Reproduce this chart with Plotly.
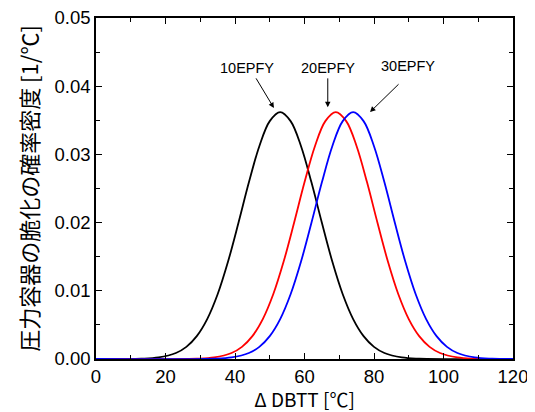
import plotly.graph_objects as go

# Data (ΔDBTT [℃], probability density [1/℃])
x_10 = [0, 13, 18, 23, 26, 29, 32, 35, 38, 41, 44, 47, 50, 53, 56, 59, 62, 65, 68, 71, 74, 77, 80, 83, 88, 93, 120]
y_10 = [0, 0.00005, 0.00023, 0.00088, 0.00178, 0.00335, 0.00585, 0.00949, 0.01429, 0.01997, 0.02590, 0.03120, 0.03488, 0.03620,
        0.03488, 0.03120, 0.02590, 0.01997, 0.01429, 0.00949, 0.00585, 0.00335, 0.00178, 0.00088, 0.00023, 0.00005, 0]

x_20 = [0, 29, 34, 39, 42, 45, 48, 51, 54, 57, 60, 63, 66, 69, 72, 75, 78, 81, 84, 87, 90, 93, 96, 99, 104, 109, 120]
y_20 = [0, 0.00005, 0.00023, 0.00088, 0.00178, 0.00335, 0.00585, 0.00949, 0.01429, 0.01997, 0.02590, 0.03120, 0.03488, 0.03620,
        0.03488, 0.03120, 0.02590, 0.01997, 0.01429, 0.00949, 0.00585, 0.00335, 0.00178, 0.00088, 0.00023, 0.00005, 0]

x_30 = [0, 34, 39, 44, 47, 50, 53, 56, 59, 62, 65, 68, 71, 74, 77, 80, 83, 86, 89, 92, 95, 98, 101, 104, 109, 114, 120]
y_30 = [0, 0.00005, 0.00023, 0.00088, 0.00178, 0.00335, 0.00585, 0.00949, 0.01429, 0.01997, 0.02590, 0.03120, 0.03488, 0.03620,
        0.03488, 0.03120, 0.02590, 0.01997, 0.01429, 0.00949, 0.00585, 0.00335, 0.00178, 0.00088, 0.00023, 0.00005, 0.00001]

labels = ["10EPFY", "20EPFY", "30EPFY"]
colors = ["black", "red", "blue"]
label_pos = [(43.4, 0.0427), (66.7, 0.0427), (89.8, 0.0429)]
arrow_tail = [(45.8, 0.04137), (66.7, 0.04137), (87.5, 0.0405)]
arrow_head = [(51.2, 0.0368), (66.7, 0.0369), (78.85, 0.0362)]

FONT = "Liberation Sans, Arial, sans-serif"
CJK = "Noto Sans CJK JP, Liberation Sans, sans-serif"

fig = go.Figure()
for xs, ys, c, name in zip([x_10, x_20, x_30], [y_10, y_20, y_30], colors, labels):
    fig.add_trace(go.Scatter(x=xs, y=ys, mode="lines", name=name,
                             line=dict(color=c, width=1.8, shape="spline", smoothing=1.0),
                             showlegend=False, hoverinfo="skip"))

for lab, (tx, ty), (ax, ay), (hx, hy) in zip(labels, label_pos, arrow_tail, arrow_head):
    fig.add_annotation(x=tx, y=ty, text=lab, showarrow=False,
                       font=dict(family=FONT, size=14.5, color="black"))
    fig.add_annotation(x=hx, y=hy, ax=ax, ay=ay, axref="x", ayref="y", text="",
                       showarrow=True, arrowhead=2, arrowsize=1.1, arrowwidth=1, arrowcolor="black")

axis_common = dict(showline=True, linecolor="black", linewidth=1.5, mirror="ticks",
                   ticks="inside", ticklen=6, tickwidth=1, tickcolor="black",
                   showgrid=False, zeroline=False, automargin=False,
                   ticklabeloverflow="allow",
                   tickfont=dict(family=FONT, size=18.5, color="black"))

fig.update_xaxes(range=[0, 120], tickvals=[0, 20, 40, 60, 80, 100, 120],
                 minor=dict(ticks="inside", ticklen=4, tickcolor="black", dtick=10, tick0=0),
                 title=dict(text="Δ DBTT [℃]", font=dict(family=CJK, size=19, color="black"), standoff=14),
                 **axis_common)
fig.update_yaxes(range=[0, 0.05], tickvals=[0, 0.01, 0.02, 0.03, 0.04, 0.05], tickformat=".2f",
                 minor=dict(ticks="inside", ticklen=4, tickcolor="black", dtick=0.005, tick0=0),
                 title=dict(text="圧力容器の脆化の確率密度 [1/℃]", font=dict(family=CJK, size=22, color="black"), standoff=10),
                 **axis_common)

# page body has an 8px margin, so the figure is shrunk and shifted by that amount
fig.update_layout(width=527, height=404, margin=dict(l=88, r=22, t=10, b=53),
                  plot_bgcolor="white", paper_bgcolor="white")

fig.write_html("out.html")
